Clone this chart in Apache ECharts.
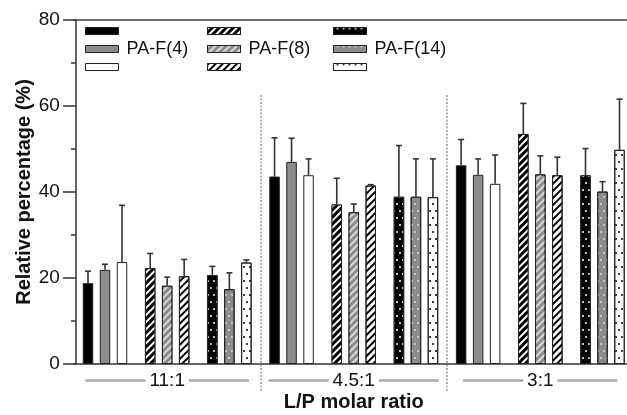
<!DOCTYPE html>
<html><head><meta charset="utf-8">
<script src="https://cdn.jsdelivr.net/npm/echarts@6/dist/echarts.min.js"></script>
<style>html,body{margin:0;padding:0;background:#fff}#c{width:627px;height:415px}</style>
</head><body><div id="c"></div>
<script>
// ---- data ----
const ratios = ['11:1', '4.5:1', '3:1'];
const polymers = ['PA-F(4)', 'PA-F(8)', 'PA-F(14)'];
const shades = ['black', 'gray', 'white'];
const yTicks = [0, 20, 40, 60, 80];

// mean values per ratio (11:1, 4.5:1, 3:1)
const f4Black  = [18.8, 43.6, 46.2];
const f4Gray   = [21.9, 47.0, 44.0];
const f4White  = [23.7, 43.9, 41.9];
const f8Black  = [22.3, 37.1, 53.5];
const f8Gray   = [18.2, 35.3, 44.1];
const f8White  = [20.4, 41.5, 43.9];
const f14Black = [20.7, 38.9, 43.9];
const f14Gray  = [17.4, 38.9, 40.1];
const f14White = [23.6, 38.8, 49.8];
// upper error bars
const f4BlackErr  = [2.8, 9.0, 6.0];
const f4GrayErr   = [1.3, 5.5, 3.7];
const f4WhiteErr  = [13.2, 3.8, 6.7];
const f8BlackErr  = [3.4, 6.1, 7.1];
const f8GrayErr   = [2.0, 1.9, 4.3];
const f8WhiteErr  = [3.9, 0.2, 4.2];
const f14BlackErr = [2.0, 11.9, 6.2];
const f14GrayErr  = [3.8, 8.8, 2.3];
const f14WhiteErr = [0.6, 8.9, 11.8];

const means = [[f4Black, f4Gray, f4White], [f8Black, f8Gray, f8White], [f14Black, f14Gray, f14White]];
const errs = [[f4BlackErr, f4GrayErr, f4WhiteErr], [f8BlackErr, f8GrayErr, f8WhiteErr], [f14BlackErr, f14GrayErr, f14WhiteErr]];

// ---- styles ----
const BAR_W = 10.5, GAP_PX = 6.5;
const fills = { black: '#000000', gray: '#8c8c8c', white: '#ffffff' };
const marks = { black: '#ffffff', gray: '#d9d9d9', white: '#000000' };
function decalFor(pi, shade) {
  if (pi === 1) return { symbol: 'rect', symbolSize: 1, color: marks[shade],
    dashArrayX: [1, 0], dashArrayY: [1.6, 3], rotation: -Math.PI / 4 };
  if (pi === 2) return { symbol: 'circle', symbolSize: 1, color: marks[shade],
    dashArrayX: [[1.8, 3.2], [0, 2.5, 1.8, 0.7]], dashArrayY: [1.8, 4.2], rotation: 0 };
  return null;
}

const subCats = [];
ratios.forEach(r => polymers.forEach(p => subCats.push(r + ' ' + p)));

function sName(pi, si) { return si === 1 ? polymers[pi] : polymers[pi] + ' ' + shades[si]; }

const series = [];
polymers.forEach((p, pi) => {
  shades.forEach((s, si) => {
    const data = subCats.map(() => '-');
    ratios.forEach((r, ri) => { data[ri * 3 + pi] = means[pi][si][ri]; });
    const itemStyle = { color: fills[s], borderColor: '#222', borderWidth: 1 };
    const d = decalFor(pi, s);
    if (d) itemStyle.decal = d;
    series.push({
      type: 'bar', name: sName(pi, si), stack: s, xAxisIndex: 0, yAxisIndex: 0,
      barWidth: BAR_W, barGap: (GAP_PX / BAR_W * 100) + '%',
      itemStyle: itemStyle, data: data, animation: false
    });
  });
});

const errData = [];
polymers.forEach((p, pi) => shades.forEach((s, si) => ratios.forEach((r, ri) => {
  errData.push([ri * 3 + pi, means[pi][si][ri], errs[pi][si][ri], si]);
})));
series.push({
  type: 'custom', xAxisIndex: 0, yAxisIndex: 0, z: 5, animation: false, silent: true,
  data: errData,
  renderItem: function (params, api) {
    const cat = api.value(0), m = api.value(1), e = api.value(2), slot = api.value(3);
    const b = api.coord([cat, m]);
    const t = api.coord([cat, m + e]);
    const x = b[0] + (slot - 1) * (BAR_W + GAP_PX);
    const st = { stroke: '#333', lineWidth: 1.6 };
    return { type: 'group', children: [
      { type: 'line', shape: { x1: x, y1: b[1], x2: x, y2: t[1] }, style: st },
      { type: 'line', shape: { x1: x - 3, y1: t[1], x2: x + 3, y2: t[1] }, style: st }
    ] };
  }
});

// dummy series so the separator grid axes exist
series.push({ type: 'line', xAxisIndex: 3, yAxisIndex: 1, data: [], silent: true });

function legendFor(pi, left) {
  return {
    orient: 'vertical', left: left, top: 22, padding: 0,
    itemWidth: 33, itemHeight: 7, itemGap: 0, icon: 'rect', selectedMode: false,
    data: shades.map((s, si) => sName(pi, si)),
    formatter: n => (polymers.indexOf(n) >= 0 ? n : '\u00a0'),
    textStyle: { fontSize: 18, color: '#111', fontFamily: 'Liberation Sans, Arial', padding: [0, 0, 0, 3] },
    itemStyle: { borderColor: '#222', borderWidth: 1 }
  };
}

const GL = 73.9, GR = -6.6;
const option = {
  backgroundColor: '#fff',
  textStyle: { fontFamily: 'Liberation Sans, Arial, sans-serif' },
  legend: [legendFor(0, 85), legendFor(1, 207), legendFor(2, 333)],
  grid: [
    { left: GL, right: GR, top: 20, bottom: 51, outerBoundsMode: 'none', containLabel: false },
    { left: GL, right: GR, top: 95, bottom: 23, outerBoundsMode: 'none', containLabel: false }
  ],
  xAxis: [
    { type: 'category', gridIndex: 0, data: subCats, position: 'bottom',
      axisLine: { show: true, lineStyle: { color: '#333', width: 1.5 } },
      axisTick: { show: false }, axisLabel: { show: false }, splitLine: { show: false } },
    { type: 'category', gridIndex: 0, data: ratios, position: 'bottom',
      axisLine: { show: false }, axisTick: { show: false }, splitLine: { show: false },
      name: 'L/P molar ratio', nameLocation: 'middle', nameGap: 28, nameMoveOverlap: false,
      nameTextStyle: { fontSize: 20, fontWeight: 'bold', color: '#111' },
      axisLabel: { show: true, margin: 7, color: '#111', fontSize: 19,
        formatter: v => '{l|}{t|' + v + '}{l|}',
        rich: { l: { width: 60, height: 2.5, backgroundColor: '#aaa' }, t: { fontSize: 19, padding: [0, 4, 0, 4], color: '#111' } } } },
    { type: 'category', gridIndex: 0, data: ratios, position: 'top',
      axisLine: { show: true, lineStyle: { color: '#444', width: 1.5 } },
      axisTick: { show: false }, axisLabel: { show: false }, splitLine: { show: false } },
    { type: 'category', gridIndex: 1, data: ratios, position: 'bottom',
      axisLine: { show: false }, axisTick: { show: false }, axisLabel: { show: false },
      splitLine: { show: true, interval: (i) => i === 1 || i === 2,
        lineStyle: { color: '#b0b0b0', width: 2, type: [2, 1.5] } } }
  ],
  yAxis: [
    { type: 'value', gridIndex: 0, min: 0, max: 80, interval: 20, offset: -2,
      name: 'Relative percentage (%)', nameLocation: 'middle', nameGap: 41, nameMoveOverlap: false,
      nameTextStyle: { fontSize: 20, fontWeight: 'bold', color: '#111' },
      axisLine: { show: true, lineStyle: { color: '#333', width: 1.5 } },
      axisTick: { show: true, length: 13, lineStyle: { color: '#333', width: 1.5 } },
      minorTick: { show: true, splitNumber: 2, length: 5, lineStyle: { color: '#333', width: 1.5 } },
      axisLabel: { fontSize: 19, color: '#111', margin: 16, formatter: v => (yTicks.indexOf(v) >= 0 ? String(v) : '') },
      splitLine: { show: false } },
    { type: 'value', gridIndex: 1, min: 0, max: 1, show: false }
  ],
  series: series
};
const chart = echarts.init(document.getElementById('c'), null, { renderer: 'canvas' });
chart.setOption(option);
</script></body></html>
